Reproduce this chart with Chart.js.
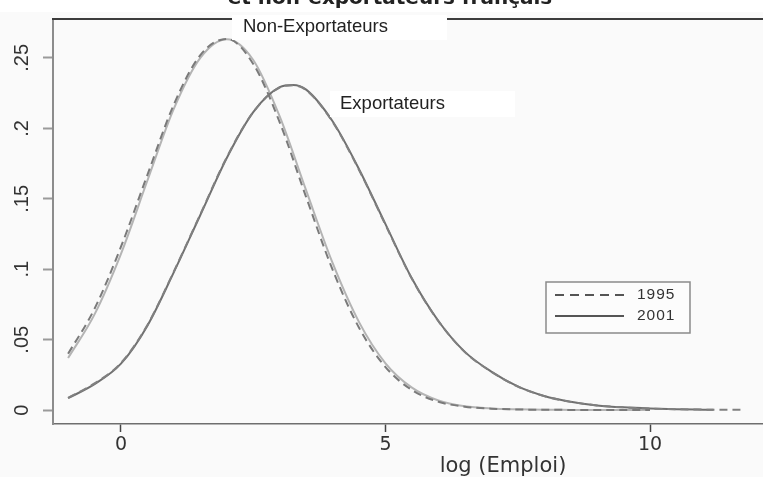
<!DOCTYPE html>
<html>
<head>
<meta charset="utf-8">
<script src="https://cdn.jsdelivr.net/npm/chart.js@4.4.1/dist/chart.umd.min.js"></script>
<style>
  html, body { margin: 0; padding: 0; background: #fafafa; }
  #wrap { width: 763px; height: 477px; }
</style>
</head>
<body>
<div id="wrap"><canvas id="densite" width="763" height="477"></canvas></div>
<script>
// densites
const xNonExp = [-1, -0.5, 0, 0.5, 1, 1.5, 2, 2.5, 3, 3.5, 4, 4.5, 5, 5.5, 6, 6.5, 7, 7.5, 8, 8.5, 9, 9.5, 10];
const nonExp1995 = [0.040, 0.072, 0.116, 0.167, 0.217, 0.252, 0.2635, 0.2457, 0.2043, 0.1512, 0.0997, 0.0585, 0.0306, 0.0143, 0.0060, 0.0025, 0.0011, 0.0005, 0.0003, 0.0002, 0.0001, 0.0001, 0.0001];
const nonExp2001 = [0.037, 0.068, 0.111, 0.163, 0.214, 0.250, 0.2632, 0.2485, 0.2085, 0.156, 0.1045, 0.0625, 0.0333, 0.0160, 0.0069, 0.0028, 0.0012, 0.0006, 0.0003, 0.0002, 0.0001, 0.0001, 0.0001];

const xExp1995 = [-1, -0.5, 0, 0.5, 1, 1.5, 2, 2.5, 3, 3.25, 3.5, 4, 4.5, 5, 5.5, 6, 6.5, 7, 7.5, 8, 8.5, 9, 9.5, 10, 10.5, 11, 11.5, 11.8];
const exp1995 = [0.0088, 0.019, 0.0335, 0.0605, 0.0985, 0.139, 0.1795, 0.2115, 0.2290, 0.2305, 0.2272, 0.2045, 0.1705, 0.1315, 0.0932, 0.0632, 0.0413, 0.0273, 0.0168, 0.0100, 0.0059, 0.0034, 0.0020, 0.0012, 0.0007, 0.0004, 0.0003, 0.0002];
const xExp2001 = [-1, -0.5, 0, 0.5, 1, 1.5, 2, 2.5, 3, 3.25, 3.5, 4, 4.5, 5, 5.5, 6, 6.5, 7, 7.5, 8, 8.5, 9, 9.5, 10, 10.5, 11, 11.2];
const exp2001 = [0.0085, 0.0185, 0.033, 0.060, 0.098, 0.1385, 0.179, 0.2115, 0.2292, 0.2308, 0.2275, 0.205, 0.171, 0.132, 0.0934, 0.0633, 0.0414, 0.0274, 0.0169, 0.0101, 0.0060, 0.0034, 0.0020, 0.0012, 0.0007, 0.0004, 0.0003];

const years = ['1995', '2001'];
const groupLabels = ['Non-Exportateurs', 'Exportateurs'];
const xTickValues = [0, 5, 10];
const yTickValues = [0, 0.05, 0.1, 0.15, 0.2, 0.25];
const yTickLabels = ['0', '.05', '.1', '.15', '.2', '.25'];
const titleText = 'et non-exportateurs français';
const xTitle = 'log (Emploi)';

function pts(xs, ys) {
    return xs.map((x, i) => ({ x: x, y: ys[i] }));
}

const bgPlugin = {
    id: 'bg',
    beforeDraw(chart) {
        const ctx = chart.ctx;
        ctx.save();
        ctx.fillStyle = '#fafafa';
        ctx.fillRect(0, 0, chart.width, chart.height);
        ctx.fillStyle = '#ffffff';
        ctx.fillRect(0, 0, chart.width, 12);
        ctx.restore();
    }
};

const extras = {
    id: 'extras',
    afterDraw(chart) {
        const ctx = chart.ctx;
        const area = chart.chartArea;
        ctx.save();

        // bord du haut
        ctx.strokeStyle = '#3c3c3c';
        ctx.lineWidth = 2;
        ctx.beginPath();
        ctx.moveTo(area.left - 1, area.top);
        ctx.lineTo(chart.width, area.top);
        ctx.stroke();

        // titre coupe en haut
        ctx.fillStyle = '#222';
        ctx.font = 'bold 20px "DejaVu Sans"';
        ctx.textAlign = 'center';
        ctx.textBaseline = 'alphabetic';
        ctx.fillText(titleText, 390, 4);

        // etiquettes des groupes
        ctx.fillStyle = '#ffffff';
        ctx.fillRect(232, 15, 215, 25);
        ctx.fillRect(330, 91, 185, 26);
        ctx.fillStyle = '#222';
        ctx.font = '18.5px "Liberation Sans"';
        ctx.textAlign = 'left';
        ctx.textBaseline = 'middle';
        ctx.fillText(groupLabels[0], 243, 27);
        ctx.fillText(groupLabels[1], 340, 104);

        // legende
        ctx.fillStyle = '#fcfcfc';
        ctx.fillRect(546, 282, 144, 51);
        ctx.strokeStyle = '#8a8a8a';
        ctx.lineWidth = 1.5;
        ctx.strokeRect(546, 282, 144, 51);
        ctx.strokeStyle = '#555';
        ctx.lineWidth = 2;
        ctx.setLineDash([9, 6]);
        ctx.beginPath();
        ctx.moveTo(555, 295);
        ctx.lineTo(624, 295);
        ctx.stroke();
        ctx.setLineDash([]);
        ctx.beginPath();
        ctx.moveTo(555, 316);
        ctx.lineTo(624, 316);
        ctx.stroke();
        ctx.fillStyle = '#333';
        ctx.font = '15.5px "Liberation Sans"';
        ctx.letterSpacing = '1px';
        ctx.fillText(years[0], 637, 295);
        ctx.fillText(years[1], 637, 316);
        ctx.letterSpacing = '0px';

        // titre axe x
        ctx.fillStyle = '#333';
        ctx.font = '21px "DejaVu Sans"';
        ctx.textAlign = 'center';
        ctx.textBaseline = 'alphabetic';
        ctx.fillText(xTitle, 503, 472);
        ctx.restore();
    }
};

new Chart(document.getElementById('densite'), {
    type: 'line',
    data: {
        datasets: [
            {
                label: groupLabels[0] + ' ' + years[0],
                data: pts(xNonExp, nonExp1995),
                borderColor: '#7a7a7a',
                borderWidth: 2,
                borderDash: [8, 5],
                pointRadius: 0,
                cubicInterpolationMode: 'monotone'
            },
            {
                label: groupLabels[1] + ' ' + years[0],
                data: pts(xExp1995, exp1995),
                borderColor: '#808080',
                borderWidth: 2,
                borderDash: [8, 5],
                pointRadius: 0,
                cubicInterpolationMode: 'monotone'
            },
            {
                label: groupLabels[1] + ' ' + years[1],
                data: pts(xExp2001, exp2001),
                borderColor: '#707070',
                borderWidth: 2,
                pointRadius: 0,
                cubicInterpolationMode: 'monotone'
            },
            {
                label: groupLabels[0] + ' ' + years[1],
                data: pts(xNonExp, nonExp2001),
                borderColor: '#b4b4b4',
                borderWidth: 2,
                pointRadius: 0,
                cubicInterpolationMode: 'monotone'
            }
        ]
    },
    options: {
        responsive: false,
        animation: false,
        layout: { padding: { top: 13, right: 0, left: 0, bottom: 0 } },
        plugins: {
            legend: { display: false },
            tooltip: { enabled: false }
        },
        scales: {
            x: {
                type: 'linear',
                min: -1.285,
                max: 12.136,
                afterBuildTicks: s => { s.ticks = xTickValues.map(v => ({ value: v })); },
                afterFit: s => { s.height = 53; },
                grid: { drawOnChartArea: false, drawTicks: true, tickLength: 8, tickColor: '#444', tickWidth: 1.5 },
                border: { color: '#6e6e6e', width: 1.5 },
                ticks: {
                    font: { family: 'DejaVu Sans', size: 19 },
                    color: '#333',
                    padding: 2,
                    maxRotation: 0
                }
            },
            y: {
                min: -0.0098,
                max: 0.2776,
                afterBuildTicks: s => { s.ticks = yTickValues.map(v => ({ value: v })); },
                afterFit: s => { s.width = 53; },
                grid: { drawOnChartArea: false, drawTicks: true, tickLength: 10, tickColor: '#9a9a9a', tickWidth: 2 },
                border: { color: '#8c8c8c', width: 2 },
                ticks: {
                    font: { family: 'Liberation Sans', size: 20 },
                    color: '#333',
                    minRotation: 90,
                    maxRotation: 90,
                    crossAlign: 'center',
                    padding: 7,
                    callback: (v) => yTickLabels[yTickValues.indexOf(v)]
                }
            }
        }
    },
    plugins: [bgPlugin, extras]
});
</script>
</body>
</html>
